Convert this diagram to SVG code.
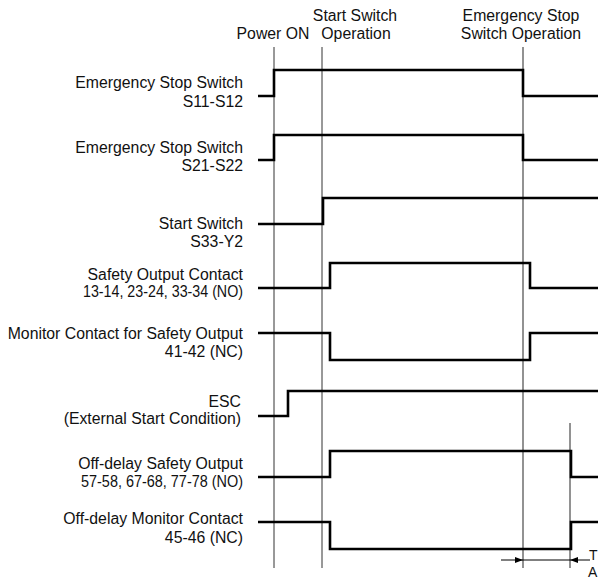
<svg xmlns="http://www.w3.org/2000/svg" width="598" height="580" viewBox="0 0 598 580">
<defs>
<style>
text{font-family:"Liberation Sans",Arial,Helvetica,sans-serif;font-size:15.8px;fill:#111}
.r{text-anchor:end}
.m{text-anchor:middle}
.sig{fill:none;stroke:#000;stroke-width:2.6;stroke-linejoin:miter}
.ref{stroke:#333;stroke-width:1;fill:none}
.refg{stroke:#777;stroke-width:1.6;fill:none}
.dim{stroke:#000;stroke-width:1;fill:none}
.small{font-size:14px}
</style>
<marker id="ah" markerWidth="8" markerHeight="6" refX="8" refY="3" orient="auto" markerUnits="userSpaceOnUse">
<path d="M0,0 L8,3 L0,6 Z" fill="#000"/>
</marker>
</defs>
<rect width="598" height="580" fill="#fff"/>
<g id="events">
<text class="m" x="273" y="39">Power ON</text>
<text class="m" x="355" y="21">Start Switch</text>
<text class="m" x="356" y="39">Operation</text>
<text class="m" x="521" y="21">Emergency Stop</text>
<text class="m" x="521" y="39">Switch Operation</text>
</g>
<g id="reference-lines">
<line class="ref" x1="274" y1="47" x2="274" y2="568"/>
<line class="ref" x1="322" y1="47" x2="322" y2="568"/>
<line class="refg" x1="523" y1="47" x2="523" y2="568"/>
<line class="refg" x1="570" y1="423" x2="570" y2="568"/>
</g>
<g id="sig-s11">
<text class="r" x="243" y="88">Emergency Stop Switch</text>
<text class="r" x="243" y="107">S11-S12</text>
<polyline class="sig" points="258,96 274,96 274,70 523,70 523,96 598,96"/>
</g>
<g id="sig-s21">
<text class="r" x="243" y="153">Emergency Stop Switch</text>
<text class="r" x="243" y="171">S21-S22</text>
<polyline class="sig" points="258,160 274,160 274,135 523,135 523,160 598,160"/>
</g>
<g id="sig-start">
<text class="r" x="243" y="229">Start Switch</text>
<text class="r" x="243" y="247">S33-Y2</text>
<polyline class="sig" points="258,224 323,224 323,198 598,198"/>
</g>
<g id="sig-safety">
<text class="r" x="243" y="280">Safety Output Contact</text>
<text class="r" x="243" y="297" textLength="160" lengthAdjust="spacingAndGlyphs">13-14, 23-24, 33-34 (NO)</text>
<polyline class="sig" points="258,288 330,288 330,263 530,263 530,288 598,288"/>
</g>
<g id="sig-monitor">
<text class="r" x="243" y="339">Monitor Contact for Safety Output</text>
<text class="r" x="243" y="357">41-42 (NC)</text>
<polyline class="sig" points="258,333 330,333 330,360 530,360 530,333 598,333"/>
</g>
<g id="sig-esc">
<text class="r" x="241" y="407">ESC</text>
<text class="r" x="241" y="424">(External Start Condition)</text>
<polyline class="sig" points="258,416 288,416 288,391 598,391"/>
</g>
<g id="sig-offdelay">
<text class="r" x="243" y="469">Off-delay Safety Output</text>
<text class="r" x="243" y="487" textLength="162" lengthAdjust="spacingAndGlyphs">57-58, 67-68, 77-78 (NO)</text>
<polyline class="sig" points="258,477 330,477 330,451 571,451 571,477 598,477"/>
</g>
<g id="sig-offmonitor">
<text class="r" x="243" y="524">Off-delay Monitor Contact</text>
<text class="r" x="243" y="543">45-46 (NC)</text>
<polyline class="sig" points="258,522 330,522 330,549 571,549 571,522 598,522"/>
</g>
<g id="connectors">
<line class="dim" x1="501" y1="560" x2="523" y2="560" marker-end="url(#ah)"/>
<line class="dim" x1="523" y1="560" x2="570" y2="560"/>
<line class="dim" x1="590" y1="560" x2="570" y2="560" marker-end="url(#ah)"/>
</g>
<g id="dim-label">
<text class="small" x="589" y="560">T</text>
<text class="small" x="588" y="577">A</text>
</g>
</svg>
